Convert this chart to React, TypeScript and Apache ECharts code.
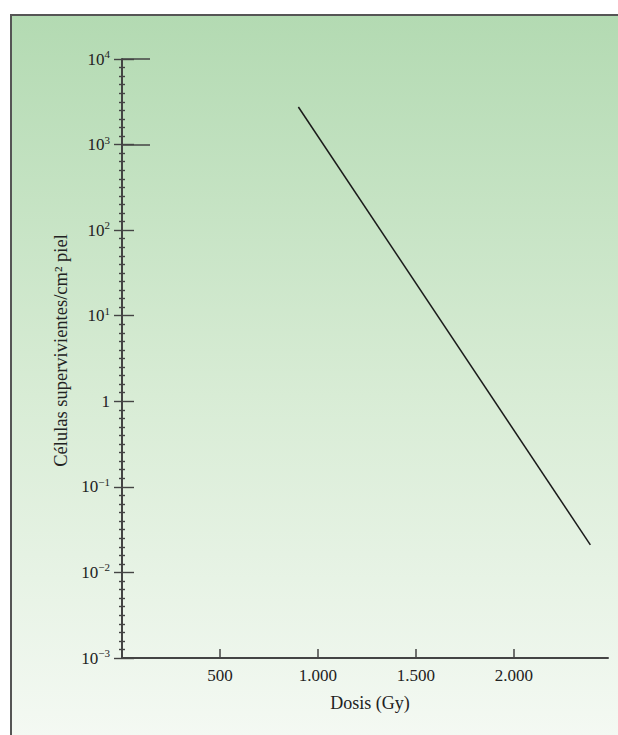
import React, { useEffect, useRef } from "react";
import * as echarts from "echarts";

const doseTicks = [500, 1000, 1500, 2000];
const survivalDecadeMarks = [1000, 10000];
const decadeExponentRange = [-3, 4];
const curveDose = [900, 2390];
const curveCells = [2750, 0.021];

const FONT = "Liberation Serif";
const INK = "#222";
const AXIS = "#444";

function fmtDose(v: number): string {
  if (v >= 1000) {
    const th = Math.floor(v / 1000);
    const rest = String(v % 1000).padStart(3, "0");
    return th + "." + rest;
  }
  return String(v);
}

function fmtPow(v: number): string {
  const e = Math.round(Math.log10(v));
  if (e === 0) return "{b|1}";
  const sup = e < 0 ? "\u2212" + -e : String(e);
  return "{b|10}{s|" + sup + "}";
}

export default function App() {
  const ref = useRef<HTMLDivElement>(null);
  useEffect(() => {
    if (!ref.current) return;
    const chart = echarts.init(ref.current, undefined, { renderer: "svg" });
    const baseLog = {
      type: "log" as const,
      logBase: 10,
      min: 0.001,
      max: 10000,
      position: "left" as const,
      gridIndex: 0,
      splitLine: { show: false },
    };
    const tickAxis = (inside: boolean, length: number) => ({
      type: "value" as const,
      min: decadeExponentRange[0],
      max: decadeExponentRange[1],
      interval: 1,
      position: "left" as const,
      gridIndex: 0,
      splitLine: { show: false },
      axisLine: { show: false, onZero: false },
      axisLabel: { show: false },
      axisTick: { show: true, inside, length, lineStyle: { color: AXIS, width: 1.4 } },
      minorTick: { show: true, splitNumber: 10, length: 3, lineStyle: { color: AXIS, width: 1.4 } },
      minorSplitLine: { show: false },
    });
    chart.setOption({
      animation: false,
      backgroundColor: "#ffffff",
      graphic: [
        {
          type: "rect",
          z: -100,
          shape: { x: 11, y: 15, width: 640, height: 760 },
          style: {
            fill: new echarts.graphic.LinearGradient(0, 0, 0, 1, [
              { offset: 0, color: "#b3dab2" },
              { offset: 0.5, color: "#d8ecd5" },
              { offset: 0.95, color: "#f4f9f3" },
              { offset: 1, color: "#f6faf5" },
            ]),
            stroke: "#555",
            lineWidth: 2,
          },
        },
      ],
      grid: { left: 122, top: 59, right: 10, bottom: 77, containLabel: false },
      xAxis: {
        type: "value",
        min: 0,
        max: 2480,
        interval: 500,
        splitLine: { show: false },
        axisLine: { show: true, onZero: false, lineStyle: { color: AXIS, width: 2 } },
        axisTick: {
          show: true,
          inside: true,
          length: 9,
          customValues: doseTicks,
          lineStyle: { color: AXIS, width: 1.5 },
        },
        axisLabel: {
          customValues: doseTicks,
          formatter: (v: number) => fmtDose(v),
          margin: 9,
          fontFamily: FONT,
          fontSize: 17,
          color: INK,
        },
        name: "Dosis (Gy)",
        nameLocation: "middle",
        nameGap: 36,
        nameTextStyle: { fontFamily: FONT, fontSize: 18, color: INK, padding: [0, 0, 0, 10] },
      },
      yAxis: [
        {
          ...baseLog,
          axisLine: { show: true, onZero: false, lineStyle: { color: AXIS, width: 2 } },
          axisTick: { show: false },
          minorTick: { show: false },
          axisLabel: {
            formatter: (v: number) => fmtPow(v),
            margin: 12,
            rich: {
              b: { fontFamily: FONT, fontSize: 17, color: INK },
              s: { fontFamily: FONT, fontSize: 11, color: INK, padding: [0, 0, 10, 0] },
            },
          },
          name: "Células supervivientes/cm² piel",
          nameLocation: "middle",
          nameGap: 48,
          nameTextStyle: { fontFamily: FONT, fontSize: 18.5, color: INK, padding: [0, 0, 0, 16] },
        },
        tickAxis(false, 8),
        tickAxis(true, 12),
        {
          ...baseLog,
          axisLine: { show: false, onZero: false },
          axisLabel: { show: false },
          axisTick: {
            show: true,
            inside: true,
            length: 28,
            customValues: survivalDecadeMarks,
            lineStyle: { color: AXIS, width: 1.5 },
          },
        },
      ],
      series: [
        {
          type: "line",
          xAxisIndex: 0,
          yAxisIndex: 0,
          symbol: "none",
          lineStyle: { color: "#1a1a1a", width: 1.5 },
          data: curveDose.map((d, i) => [d, curveCells[i]]),
        },
      ],
    });
    return () => chart.dispose();
  }, []);
  return (
    <div
      ref={ref}
      style={{ position: "absolute", left: 0, top: 0, width: 618, height: 735 }}
    />
  );
}
